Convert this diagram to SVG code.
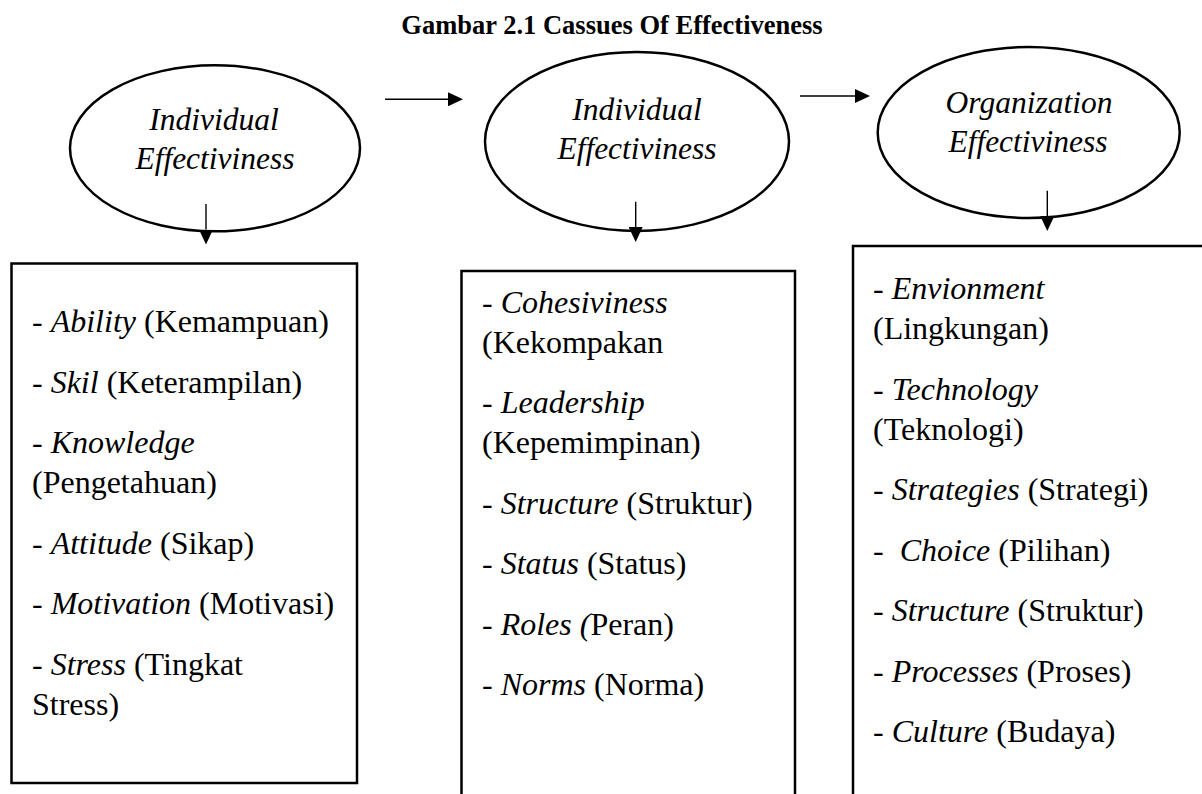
<svg xmlns="http://www.w3.org/2000/svg" width="1202" height="794" viewBox="0 0 1202 794">
  <defs>
    <marker id="head" viewBox="0 0 15 14" refX="0" refY="7" markerWidth="15" markerHeight="14" markerUnits="userSpaceOnUse" orient="auto">
      <path d="M0,0 L15,7 L0,14 z" fill="#000"/>
    </marker>
  </defs>
  <style>
    .title { font-family: "Liberation Serif", "Times New Roman", serif; font-weight: bold; font-size: 26.5px; fill: #000; }
    .oval { fill: #fff; stroke: #000; stroke-width: 2.5; }
    .oval-text { font-family: "Liberation Serif", "Times New Roman", serif; font-style: italic; font-size: 31.5px; fill: #000; text-anchor: middle; }
    .box { fill: #fff; stroke: #000; stroke-width: 2.5; }
    .item { font-family: "Liberation Serif", "Times New Roman", serif; font-size: 32px; fill: #000; }
    .it { font-style: italic; }
    .conn { stroke: #000; stroke-width: 1.4; fill: none; marker-end: url(#head); }
  </style>
  <rect width="1202" height="794" fill="#fff"/>

  <text class="title" x="612" y="33.5" text-anchor="middle">Gambar 2.1 Cassues Of Effectiveness</text>

  <!-- detail boxes -->
  <g id="box-individual">
    <rect class="box" x="11.5" y="263.5" width="345.5" height="519.5"/>
    <text class="item" x="32" y="332">- <tspan class="it">Ability</tspan> (Kemampuan)</text>
    <text class="item" x="32" y="392.5">- <tspan class="it">Skil</tspan> (Keterampilan)</text>
    <text class="item" x="32" y="453">- <tspan class="it">Knowledge</tspan></text>
    <text class="item" x="32" y="493">(Pengetahuan)</text>
    <text class="item" x="32" y="553.5">- <tspan class="it">Attitude</tspan> (Sikap)</text>
    <text class="item" x="32" y="614">- <tspan class="it">Motivation</tspan> (Motivasi)</text>
    <text class="item" x="32" y="674.5">- <tspan class="it">Stress</tspan> (Tingkat</text>
    <text class="item" x="32" y="714.5">Stress)</text>
  </g>

  <g id="box-group">
    <rect class="box" x="461.5" y="271" width="333.5" height="540"/>
    <text class="item" x="482" y="312.5">- <tspan class="it">Cohesiviness</tspan></text>
    <text class="item" x="482" y="352.5">(Kekompakan</text>
    <text class="item" x="482" y="413">- <tspan class="it">Leadership</tspan></text>
    <text class="item" x="482" y="453">(Kepemimpinan)</text>
    <text class="item" x="482" y="513.5">- <tspan class="it">Structure</tspan> (Struktur)</text>
    <text class="item" x="482" y="574">- <tspan class="it">Status</tspan> (Status)</text>
    <text class="item" x="482" y="634.5">- <tspan class="it">Roles (</tspan>Peran)</text>
    <text class="item" x="482" y="695">- <tspan class="it">Norms</tspan> (Norma)</text>
  </g>

  <g id="box-organization">
    <rect class="box" x="853" y="246" width="370" height="570"/>
    <text class="item" x="873" y="299">- <tspan class="it">Envionment</tspan></text>
    <text class="item" x="873" y="339">(Lingkungan)</text>
    <text class="item" x="873" y="399.5">- <tspan class="it">Technology</tspan></text>
    <text class="item" x="873" y="439.5">(Teknologi)</text>
    <text class="item" x="873" y="500">- <tspan class="it">Strategies</tspan> (Strategi)</text>
    <text class="item" x="873" y="560.5">- <tspan class="it" dx="8">Choice</tspan> (Pilihan)</text>
    <text class="item" x="873" y="621">- <tspan class="it">Structure</tspan> (Struktur)</text>
    <text class="item" x="873" y="681.5">- <tspan class="it">Processes</tspan> (Proses)</text>
    <text class="item" x="873" y="742">- <tspan class="it">Culture</tspan> (Budaya)</text>
  </g>

  <!-- level ovals -->
  <g id="oval-individual">
    <ellipse class="oval" cx="215" cy="148.3" rx="145" ry="83"/>
    <text class="oval-text" x="214" y="130">Individual</text>
    <text class="oval-text" x="215" y="169">Effectiviness</text>
  </g>

  <g id="oval-group">
    <ellipse class="oval" cx="637" cy="141.4" rx="152" ry="89.5"/>
    <text class="oval-text" x="637" y="120">Individual</text>
    <text class="oval-text" x="637" y="159.3">Effectiviness</text>
  </g>

  <g id="oval-organization">
    <ellipse class="oval" cx="1028.7" cy="132.5" rx="151" ry="85.5"/>
    <text class="oval-text" x="1029" y="112.7">Organization</text>
    <text class="oval-text" x="1028" y="151.7">Effectiviness</text>
  </g>

  <!-- connectors -->
  <g id="connectors">
    <line class="conn" x1="385" y1="99.3" x2="448" y2="99.3"/>
    <line class="conn" x1="800" y1="96" x2="855" y2="96"/>
    <line class="conn" x1="206" y1="204" x2="206" y2="229.5"/>
    <line class="conn" x1="635.7" y1="201.7" x2="635.7" y2="227"/>
    <line class="conn" x1="1047.3" y1="190.7" x2="1047.3" y2="216"/>
  </g>
</svg>
